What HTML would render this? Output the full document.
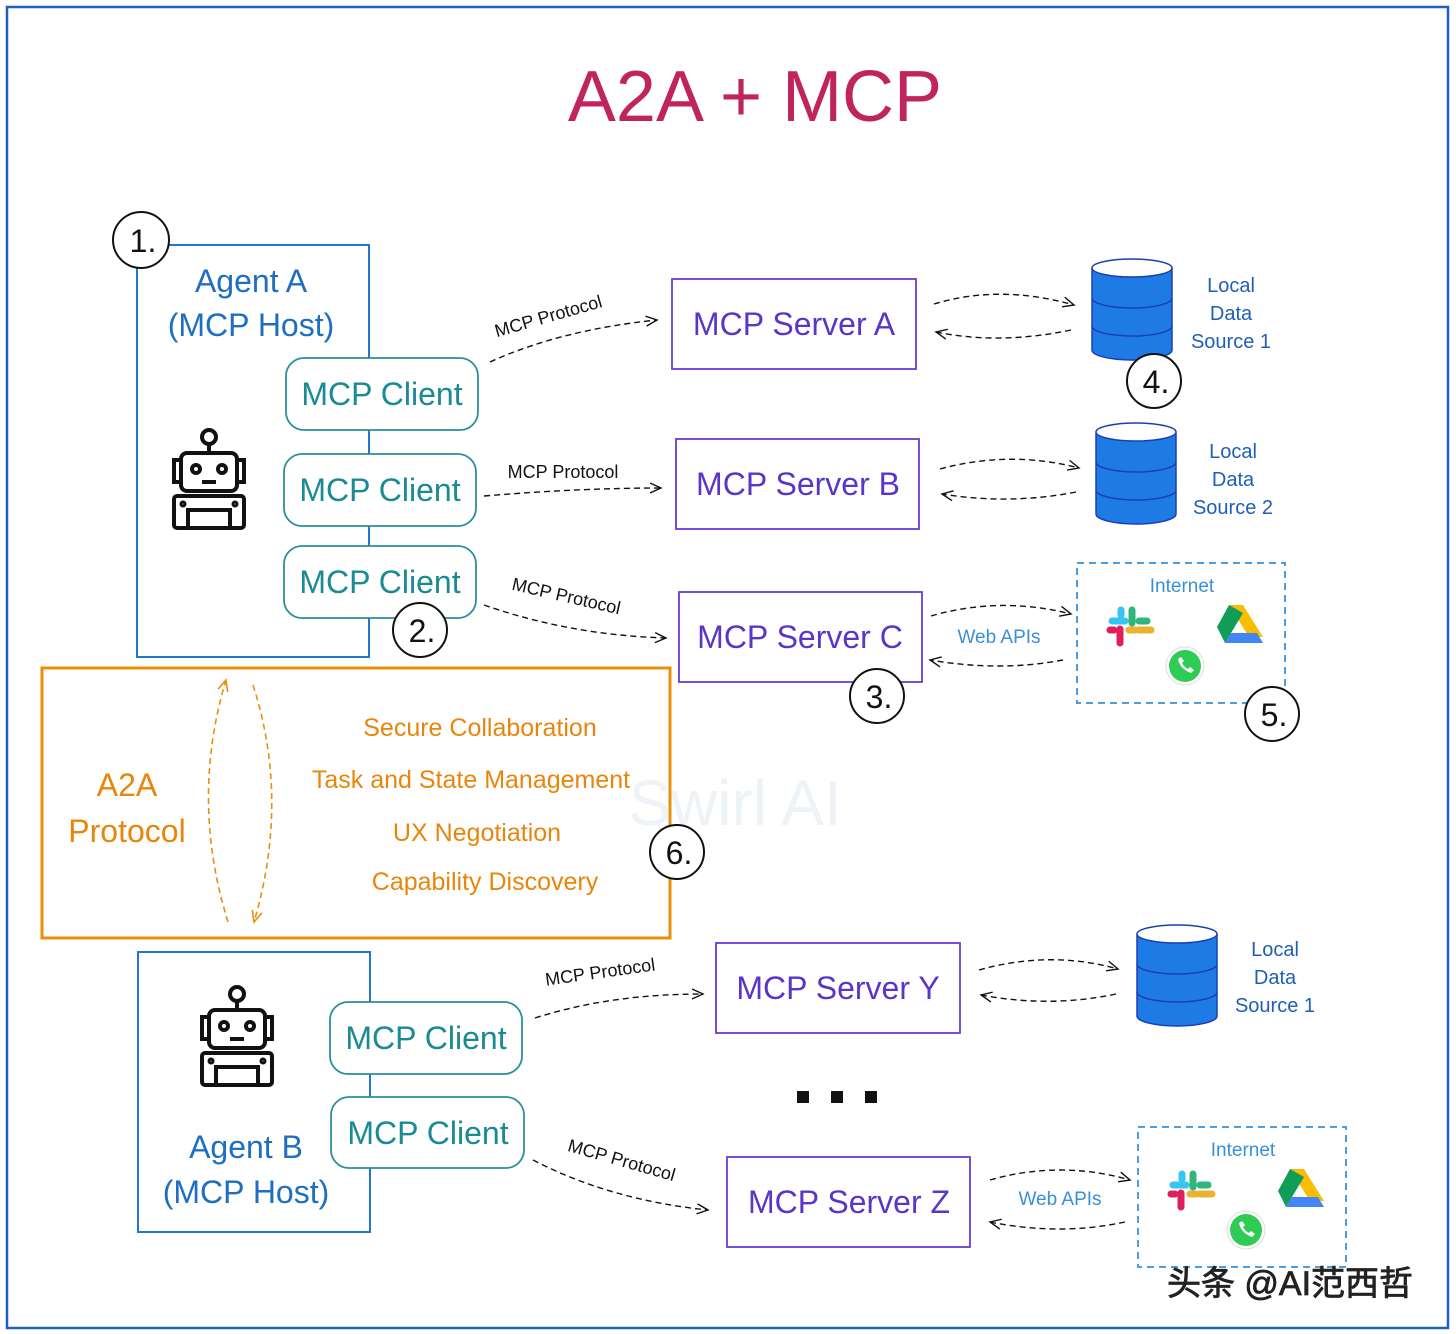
<!DOCTYPE html>
<html><head><meta charset="utf-8"><style>
html,body{margin:0;padding:0;background:#fff}
svg{display:block}
text{font-family:"Liberation Sans","Noto Sans CJK SC",sans-serif}
</style></head><body>
<svg width="1456" height="1334" viewBox="0 0 1456 1334" xmlns="http://www.w3.org/2000/svg">
<defs>
<marker id="ah" markerWidth="14" markerHeight="12" refX="12" refY="6" orient="auto" markerUnits="userSpaceOnUse">
<path d="M1,1 L12,6 L1,11" fill="none" stroke="#111" stroke-width="1.4"/></marker>
<marker id="ao" markerWidth="14" markerHeight="12" refX="12" refY="6" orient="auto" markerUnits="userSpaceOnUse">
<path d="M1,1 L12,6 L1,11" fill="none" stroke="#e8900c" stroke-width="1.6"/></marker>
<g id="db">
<path d="M0,10 L0,92 A40,10 0 0 0 80,92 L80,10" fill="#1e7be6" stroke="#1a3fb0" stroke-width="1.5"/>
<path d="M0,40 A40,10 0 0 0 80,40 M0,68 A40,10 0 0 0 80,68" fill="none" stroke="#1a3fb0" stroke-width="1.5"/>
<ellipse cx="40" cy="10" rx="40" ry="9" fill="#fff" stroke="#1a3fb0" stroke-width="1.5"/>
</g>
<g id="robot" fill="none" stroke="#111" stroke-width="4">
<circle cx="37" cy="9" r="7"/><line x1="37" y1="16" x2="37" y2="25"/>
<rect x="9" y="25" width="56" height="38" rx="6"/>
<rect x="2" y="32" width="7" height="22"/><rect x="65" y="32" width="7" height="22"/>
<circle cx="24" cy="41" r="4"/><circle cx="50" cy="41" r="4"/><line x1="30" y1="54" x2="44" y2="54"/>
<rect x="2" y="68" width="70" height="32" rx="3"/><rect x="16" y="82" width="42" height="18"/>
<circle cx="11" cy="76" r="1.5"/><circle cx="63" cy="76" r="1.5"/>
</g>
<g id="net">
<rect x="0" y="0" width="208" height="140" fill="none" stroke="#4a9de0" stroke-width="2" stroke-dasharray="7,5"/>
<text x="105" y="29" font-size="19" fill="#3a8fd9" text-anchor="middle">Internet</text>
<g stroke-linecap="round" stroke-width="7">
<line x1="35" y1="58" x2="48" y2="58" stroke="#36c5f0"/><line x1="55" y1="47" x2="55" y2="60" stroke="#2eb67d"/>
<line x1="62" y1="67" x2="74" y2="67" stroke="#ecb22e"/><line x1="43" y1="66" x2="43" y2="80" stroke="#e01e5a"/>
<line x1="52" y1="67" x2="58" y2="67" stroke="#ecb22e"/><line x1="62" y1="58" x2="70" y2="58" stroke="#2eb67d"/>
<line x1="44" y1="47" x2="44" y2="52" stroke="#36c5f0"/><line x1="33" y1="67" x2="37" y2="67" stroke="#e01e5a"/>
</g>
<polygon points="152,42 166,42 186,74 172,74" fill="#fbbc04"/>
<polygon points="152,42 140,64 148,80 166,50" fill="#0f9d58"/>
<polygon points="148,80 186,80 180,70 154,70" fill="#4285f4"/>
<circle cx="108" cy="103" r="19" fill="#fff" stroke="#ddd"/>
<circle cx="108" cy="103" r="16" fill="#2ecc55"/>
<path d="M101,96 q2,10 13,14 l3,-3 l-4,-3 l-2,2 q-4,-2 -6,-6 l2,-2 l-3,-4z" fill="#fff"/>
</g>
</defs>

<rect x="7" y="7" width="1441" height="1321" fill="#fff" stroke="#1f5fbf" stroke-width="2.5"/>
<text x="755" y="121" font-size="72" fill="#c0245c" text-anchor="middle">A2A + MCP</text>
<text x="735" y="825" font-size="64" fill="#eef3f7" text-anchor="middle" font-family="Liberation Serif">Swirl AI</text>

<!-- Agent boxes -->
<rect x="137" y="245" width="232" height="412" fill="none" stroke="#2277cc" stroke-width="2"/>
<text x="251" y="292" font-size="32" fill="#1e6fc0" text-anchor="middle">Agent A</text>
<text x="251" y="336" font-size="32" fill="#1e6fc0" text-anchor="middle">(MCP Host)</text>
<use href="#robot" x="172" y="428"/>
<rect x="138" y="952" width="232" height="280" fill="none" stroke="#2277cc" stroke-width="2"/>
<use href="#robot" x="200" y="985"/>
<g font-size="32" fill="#1e6fc0" text-anchor="middle"><text x="246" y="1158">Agent B</text><text x="246" y="1203">(MCP Host)</text></g>

<g fill="#fff" stroke="#2a8f9a" stroke-width="1.8">
<rect x="286" y="358" width="192" height="72" rx="18"/>
<rect x="284" y="454" width="192" height="72" rx="18"/>
<rect x="284" y="546" width="192" height="72" rx="18"/>
<rect x="330" y="1002" width="192" height="72" rx="18"/>
<rect x="331" y="1097" width="193" height="71" rx="18"/>
</g>
<g font-size="32" fill="#1a8a93" text-anchor="middle">
<text x="382" y="405">MCP Client</text><text x="380" y="501">MCP Client</text><text x="380" y="593">MCP Client</text>
<text x="426" y="1049">MCP Client</text><text x="428" y="1144">MCP Client</text>
</g>

<!-- Servers -->
<g fill="#fff" stroke="#6a3ad6" stroke-width="1.8">
<rect x="672" y="279" width="244" height="90"/><rect x="676" y="439" width="243" height="90"/>
<rect x="679" y="592" width="243" height="90"/><rect x="716" y="943" width="244" height="90"/>
<rect x="727" y="1157" width="243" height="90"/>
</g>
<g font-size="32" fill="#5b35c8" text-anchor="middle">
<text x="794" y="335">MCP Server A</text><text x="798" y="495">MCP Server B</text>
<text x="800" y="648">MCP Server C</text><text x="838" y="999">MCP Server Y</text>
<text x="849" y="1213">MCP Server Z</text>
</g>

<g fill="none" stroke="#111" stroke-width="1.4" stroke-dasharray="6,4" marker-end="url(#ah)">
<path d="M490,362 Q560,330 657,320"/>
<path d="M484,496 Q580,488 661,488"/>
<path d="M484,605 Q570,635 666,638"/>
<path d="M535,1018 Q610,994 703,994"/>
<path d="M533,1160 Q610,1200 708,1210"/>
<path d="M934,304 Q1000,284 1074,305"/><path d="M1071,330 Q1000,345 936,332"/>
<path d="M940,469 Q1010,450 1079,468"/><path d="M1076,492 Q1010,505 942,494"/>
<path d="M931,616 Q1000,596 1071,614"/><path d="M1063,660 Q1000,672 930,660"/>
<path d="M979,970 Q1050,950 1118,969"/><path d="M1116,994 Q1050,1008 981,995"/>
<path d="M990,1180 Q1060,1160 1130,1180"/><path d="M1125,1222 Q1060,1236 990,1222"/>
</g>
<g font-size="18" fill="#111" text-anchor="middle">
<text x="550" y="322" transform="rotate(-16 550 322)">MCP Protocol</text>
<text x="563" y="478">MCP Protocol</text>
<text x="565" y="602" transform="rotate(13 565 602)">MCP Protocol</text>
<text x="601" y="978" transform="rotate(-8 601 978)">MCP Protocol</text>
<text x="620" y="1166" transform="rotate(16 620 1166)">MCP Protocol</text>
</g>

<use href="#db" x="1092" y="258"/><use href="#db" x="1096" y="422"/><use href="#db" x="1137" y="924"/>
<g font-size="20" fill="#1e5fb8" text-anchor="middle">
<text x="1231" y="292">Local</text><text x="1231" y="320">Data</text><text x="1231" y="348">Source 1</text>
<text x="1233" y="458">Local</text><text x="1233" y="486">Data</text><text x="1233" y="514">Source 2</text>
<text x="1275" y="956">Local</text><text x="1275" y="984">Data</text><text x="1275" y="1012">Source 1</text>
</g>
<use href="#net" x="1077" y="563"/><use href="#net" x="1138" y="1127"/>
<g font-size="19" fill="#3a8fd9" text-anchor="middle">
<text x="999" y="643">Web APIs</text><text x="1060" y="1205">Web APIs</text>
</g>

<rect x="42" y="668" width="628" height="270" fill="none" stroke="#e8900c" stroke-width="3"/>
<g font-size="32" fill="#e8860c" text-anchor="middle"><text x="127" y="796">A2A</text><text x="127" y="842">Protocol</text></g>
<g font-size="25" fill="#e8860c" text-anchor="middle">
<text x="480" y="736">Secure Collaboration</text><text x="471" y="788">Task and State Management</text>
<text x="477" y="841">UX Negotiation</text><text x="485" y="890">Capability Discovery</text>
</g>
<g fill="none" stroke="#e8900c" stroke-width="1.6" stroke-dasharray="6,4">
<path d="M228,922 Q190,800 226,680" marker-end="url(#ao)"/>
<path d="M253,685 Q290,800 254,922" marker-end="url(#ao)"/>
</g>

<g fill="#111"><rect x="797" y="1091" width="12" height="12"/><rect x="831" y="1091" width="12" height="12"/><rect x="865" y="1091" width="12" height="12"/></g>

<g fill="#fff" stroke="#111" stroke-width="2">
<circle cx="141" cy="240" r="28"/><circle cx="420" cy="630" r="27"/><circle cx="877" cy="696" r="27"/>
<circle cx="1154" cy="381" r="27"/><circle cx="1272" cy="714" r="27"/><circle cx="677" cy="852" r="27"/>
</g>
<g font-size="32" fill="#111" text-anchor="middle">
<text x="143" y="252">1.</text><text x="422" y="642">2.</text><text x="879" y="708">3.</text>
<text x="1156" y="393">4.</text><text x="1274" y="726">5.</text><text x="679" y="864">6.</text>
</g>
<text x="1290" y="1295" font-size="34" fill="#222" stroke="#222" stroke-width="0.8" text-anchor="middle">头条 @AI范西哲</text>
</svg>
</body></html>
